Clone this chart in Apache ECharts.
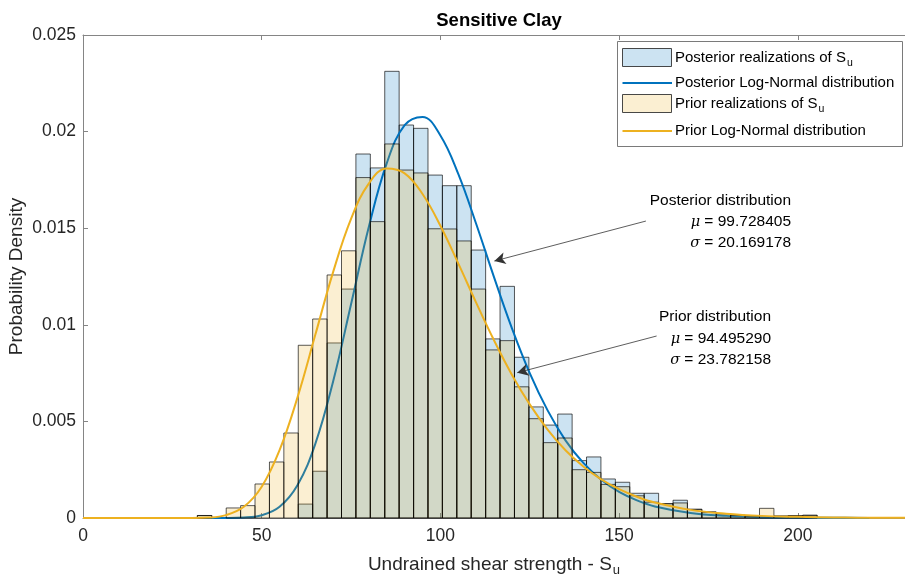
<!DOCTYPE html>
<html>
<head>
<meta charset="utf-8">
<script src="https://cdn.jsdelivr.net/npm/echarts@6/dist/echarts.min.js"></script>
<style>html,body{margin:0;padding:0;background:#fff;}#c{width:905px;height:579px;}</style>
</head>
<body>
<div id="c"></div>
<script>
// Histogram bin edges (S_u)
const binEdges = [32.00,36.03,40.07,44.10,48.13,52.17,56.20,60.23,64.26,68.30,72.33,76.36,80.40,84.43,88.46,92.50,96.53,100.56,104.59,108.63,112.66,116.69,120.73,124.76,128.79,132.83,136.86,140.89,144.92,148.96,152.99,157.02,161.06,165.09,169.12,173.16,177.19,181.22,185.25,189.29,193.32,197.35,201.39,205.42];
// Posterior realizations density per bin
const posteriorHist = [0.00013,0,0,0,0,0,0,0.00072,0.00242,0.00906,0.01185,0.01884,0.01812,0.02312,0.02034,0.02017,0.01775,0.0172,0.0172,0.01387,0.00927,0.01199,0.00832,0.00575,0.00481,0.00538,0.00297,0.00316,0.00202,0.00185,0.00128,0.00128,0.00074,0.00092,0.00045,0.00031,0.00022,0.00014,0.0001,0.00004,0.0001,0.00012,0.00014];
// Prior realizations density per bin
const priorHist = [0.00013,0,0.00052,0.00064,0.00176,0.0029,0.0044,0.00894,0.0103,0.01258,0.01383,0.01762,0.01534,0.01936,0.01801,0.01786,0.01497,0.01496,0.01434,0.01185,0.0087,0.00918,0.00679,0.00514,0.0039,0.00414,0.0025,0.00236,0.00174,0.00162,0.00115,0.00082,0.00074,0.00078,0.00045,0.00031,0.00022,0.00014,0.0001,0.0005,0.0001,0.00012,0.00014];
// Posterior Log-Normal curve (x, density)
const posteriorCurveX = [34,40,45,50,55,60,65,70,75,80,85,90,95,100,105,110,115,120,125,130,135,140,145,150,155,160,170,180,190,200,210,220];
const posteriorCurveY = [0,0.0000024,0.000024,0.000146,0.000584,0.0017,0.00384,0.00708,0.01106,0.01509,0.01837,0.02033,0.02076,0.0198,0.01781,0.01523,0.01247,0.00983,0.0075,0.00557,0.00402,0.00285,0.00198,0.00135,0.00091,0.0006,0.00026,0.00011,0.00004,0.00002,0.00001,0];
// Prior Log-Normal curve (x, density)
const priorCurveX = [0,10,20,30,35,40,45,50,55,60,65,70,75,80,85,90,95,100,105,110,115,120,125,130,135,140,145,150,155,160,170,180,190,200,210,220,230];
const priorCurveY = [0,0,0,0.000002,0.000024,0.00015,0.00058,0.00162,0.00351,0.00623,0.00948,0.01274,0.01548,0.01732,0.01809,0.01784,0.01677,0.01513,0.01318,0.01115,0.0092,0.00742,0.00588,0.00458,0.00351,0.00267,0.002,0.00149,0.0011,0.0008,0.00042,0.00022,0.00011,0.00006,0.00003,0.00001,0.00001];
// Axis ticks
const xTicks = [0,50,100,150,200];
const yTicks = [0,0.005,0.01,0.015,0.02,0.025];

const FONT = 'Liberation Sans';
const chart = echarts.init(document.getElementById('c'), null, {renderer:'canvas'});

function histData(vals){ return vals.map((v,i)=>[binEdges[i], binEdges[i+1], v]); }
function histRender(fill){
  return function(params, api){
    const v = api.value(2);
    if (!(v > 0)) return null;
    const p0 = api.coord([api.value(0), v]);
    const p1 = api.coord([api.value(1), 0]);
    return {type:'rect', shape:{x:p0[0], y:p0[1], width:p1[0]-p0[0], height:p1[1]-p0[1]},
      style:{fill:fill, stroke:'rgba(0,0,0,0.72)', lineWidth:0.9}};
  };
}
const axisCol = '#858585';
const txtCol = '#262626';
const greek = {g:{fontFamily:'DejaVu Serif', fontStyle:'italic', fontSize:14.5, fill:'#000'}};
const subStyle = {sub:{fontFamily:FONT, fontSize:10.5, fill:'#000', padding:[10,0,0,1]}};

const option = {
  animation:false,
  backgroundColor:'#fff',
  title:{text:'Sensitive Clay', left:494, top:6, textAlign:'center',
    textStyle:{fontFamily:FONT, fontSize:18.5, fontWeight:'bold', color:'#000'}},
  grid:{left:83, right:0, top:35, bottom:61, show:false, containLabel:false, outerBoundsMode:'none'},
  xAxis:[{
    type:'value', min:xTicks[0], max:230, interval:xTicks[1]-xTicks[0],
    axisLine:{show:true, onZero:false, lineStyle:{color:axisCol, width:1}},
    axisTick:{show:true, inside:true, length:5, lineStyle:{color:axisCol}},
    splitLine:{show:false},
    axisLabel:{fontFamily:FONT, fontSize:17.5, color:txtCol, margin:9, showMaxLabel:false,
      formatter:function(v){ return xTicks.indexOf(v) >= 0 ? String(v) : ''; }},
    name:'Undrained shear strength - S{sub|u}', nameLocation:'middle', nameGap:34, nameMoveOverlap:false,
    nameTextStyle:{fontFamily:FONT, fontSize:19, color:txtCol,
      rich:{sub:{fontFamily:FONT, fontSize:13, color:txtCol, padding:[12,0,0,1]}}}
  },{
    type:'value', position:'top', min:xTicks[0], max:230, interval:xTicks[1]-xTicks[0],
    axisLine:{show:true, onZero:false, lineStyle:{color:axisCol, width:1}},
    axisTick:{show:true, inside:true, length:5, lineStyle:{color:axisCol}},
    axisLabel:{show:false}, splitLine:{show:false}
  }],
  yAxis:{
    type:'value', min:yTicks[0], max:yTicks[yTicks.length-1], interval:yTicks[1]-yTicks[0],
    axisLine:{show:true, onZero:false, lineStyle:{color:axisCol, width:1}},
    axisTick:{show:true, inside:true, length:5, lineStyle:{color:axisCol}},
    splitLine:{show:false},
    axisLabel:{fontFamily:FONT, fontSize:17.5, color:txtCol, margin:7},
    name:'Probability Density', nameLocation:'middle', nameGap:57, nameMoveOverlap:false,
    nameTextStyle:{fontFamily:FONT, fontSize:19, color:txtCol}
  },
  series:[
    {name:'Posterior realizations', type:'custom', z:2, renderItem:histRender('rgba(0,114,189,0.2)'),
      encode:{x:[0,1], y:2}, data:histData(posteriorHist)},
    {name:'Posterior Log-Normal distribution', type:'line', z:3, smooth:0.4, showSymbol:false, symbol:'none',
      lineStyle:{color:'#0072BD', width:2}, data:posteriorCurveX.map((x,i)=>[x, posteriorCurveY[i]])},
    {name:'Prior realizations', type:'custom', z:4, renderItem:histRender('rgba(237,177,32,0.2)'),
      encode:{x:[0,1], y:2}, data:histData(priorHist)},
    {name:'Prior Log-Normal distribution', type:'line', z:5, smooth:0.4, showSymbol:false, symbol:'none',
      lineStyle:{color:'#EDB120', width:2}, data:priorCurveX.map((x,i)=>[x, priorCurveY[i]]),
      markLine:{silent:true, symbol:['none','arrow'], symbolSize:[9,11], label:{show:false},
        lineStyle:{color:'#333', width:0.8, type:'solid'}, emphasis:{disabled:true},
        data:[
          [{coord:[157.5,0.01537]},{coord:[115.1,0.0133]}],
          [{coord:[160.5,0.00942]},{coord:[121.5,0.00752]}]
        ]}}
  ],
  graphic:[
    // legend
    {type:'rect', z:100, shape:{x:617.5, y:41.5, width:285, height:105}, style:{fill:'#fff', stroke:'#7a7a7a', lineWidth:1}},
    {type:'rect', z:101, shape:{x:622.5, y:48.5, width:49, height:18}, style:{fill:'#cce3f2', stroke:'#333', lineWidth:0.9}},
    {type:'text', z:101, style:{x:675, y:58, text:'Posterior realizations of S{sub|u}', verticalAlign:'middle', fontFamily:FONT, fontSize:15, fill:'#000', rich:subStyle}},
    {type:'line', z:101, shape:{x1:622.5, y1:83, x2:672, y2:83}, style:{stroke:'#0072BD', lineWidth:2}},
    {type:'text', z:101, style:{x:675, y:83, text:'Posterior Log-Normal distribution', verticalAlign:'middle', fontFamily:FONT, fontSize:15, fill:'#000'}},
    {type:'rect', z:101, shape:{x:622.5, y:94.5, width:49, height:18}, style:{fill:'#fbefd2', stroke:'#333', lineWidth:0.9}},
    {type:'text', z:101, style:{x:675, y:104, text:'Prior realizations of S{sub|u}', verticalAlign:'middle', fontFamily:FONT, fontSize:15, fill:'#000', rich:subStyle}},
    {type:'line', z:101, shape:{x1:622.5, y1:131, x2:672, y2:131}, style:{stroke:'#EDB120', lineWidth:2}},
    {type:'text', z:101, style:{x:675, y:131, text:'Prior Log-Normal distribution', verticalAlign:'middle', fontFamily:FONT, fontSize:15, fill:'#000'}},
    // annotations
    {type:'text', z:101, style:{x:791, y:201, text:'Posterior distribution', align:'right', verticalAlign:'middle', fontFamily:FONT, fontSize:15.5, fill:'#000'}},
    {type:'text', z:101, style:{x:791, y:222, text:'{g|μ} = 99.728405', align:'right', verticalAlign:'middle', fontFamily:FONT, fontSize:15.5, fill:'#000', rich:greek}},
    {type:'text', z:101, style:{x:791, y:243, text:'{g|σ} = 20.169178', align:'right', verticalAlign:'middle', fontFamily:FONT, fontSize:15.5, fill:'#000', rich:greek}},
    {type:'text', z:101, style:{x:771, y:317, text:'Prior distribution', align:'right', verticalAlign:'middle', fontFamily:FONT, fontSize:15.5, fill:'#000'}},
    {type:'text', z:101, style:{x:771, y:339, text:'{g|μ} = 94.495290', align:'right', verticalAlign:'middle', fontFamily:FONT, fontSize:15.5, fill:'#000', rich:greek}},
    {type:'text', z:101, style:{x:771, y:360, text:'{g|σ} = 23.782158', align:'right', verticalAlign:'middle', fontFamily:FONT, fontSize:15.5, fill:'#000', rich:greek}}
  ]
};
chart.setOption(option);
</script>
</body>
</html>
